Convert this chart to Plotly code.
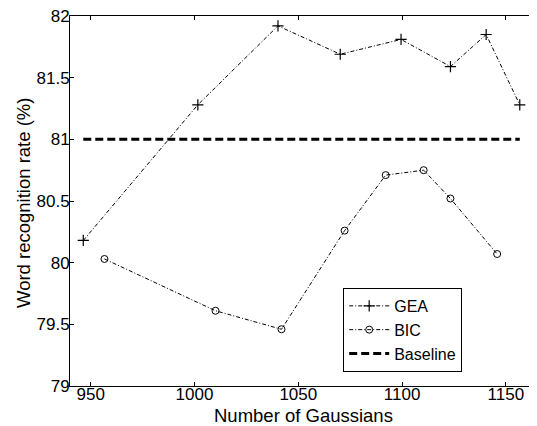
import plotly.graph_objects as go

gea_x = [946.4, 1001.6, 1040.2, 1070.2, 1099.5, 1123.3, 1140.5, 1156.7]
gea_y = [80.18, 81.28, 81.92, 81.69, 81.81, 81.59, 81.85, 81.28]
bic_x = [956.6, 1010.1, 1041.9, 1072.3, 1092.1, 1110.4, 1123.3, 1145.8]
bic_y = [80.03, 79.61, 79.46, 80.26, 80.71, 80.75, 80.52, 80.07]
base_x = [946.4, 1156.7]
base_y = [81.0, 81.0]

x_ticks = [950, 1000, 1050, 1100, 1150]
y_ticks = [79, 79.5, 80, 80.5, 81, 81.5, 82]
y_labels = ["79", "79.5", "80", "80.5", "81", "81.5", "82"]

FONT = "Liberation Sans, Arial, Helvetica, sans-serif"
DASHDOT = "4px,2px,1px,2px"

fig = go.Figure()
fig.add_trace(go.Scatter(
    x=gea_x, y=gea_y, name="GEA", mode="lines+markers",
    line=dict(color="black", width=1, dash=DASHDOT),
    marker=dict(symbol="cross-thin-open", size=8, color="black",
                line=dict(color="black", width=1.2)),
))
fig.add_trace(go.Scatter(
    x=bic_x, y=bic_y, name="BIC", mode="lines+markers",
    line=dict(color="black", width=1, dash=DASHDOT),
    marker=dict(symbol="circle-open", size=7, color="black",
                line=dict(color="black", width=1)),
))
fig.add_trace(go.Scatter(
    x=base_x, y=base_y, name="Baseline", mode="lines",
    line=dict(color="black", width=3, dash="8px,4px"),
))
fig.add_trace(go.Scatter(x=[None], y=[None], yaxis="y2", showlegend=False, hoverinfo="skip"))

# page body has an 8px margin; compensate so the plot area lands where the reference has it
fig.update_layout(
    width=529, height=418,
    margin=dict(l=62, r=0, t=8, b=40),
    paper_bgcolor="white", plot_bgcolor="white",
    font=dict(family=FONT, size=17, color="black"),
    showlegend=True,
    legend=dict(
        x=0.585, y=0.265, xanchor="left", yanchor="top",
        bgcolor="white", bordercolor="black", borderwidth=1,
        font=dict(family=FONT, size=16, color="black"),
        tracegroupgap=0, itemwidth=40, entrywidth=105,
    ),
    xaxis=dict(
        range=[940, 1165], tickvals=x_ticks,
        ticks="inside", ticklen=4, tickcolor="black",
        showline=True, linecolor="black", linewidth=1, mirror="ticks",
        showgrid=False, zeroline=False, automargin=False,
        tickfont=dict(size=17), ticklabelstandoff=-7, ticklabeloverflow="allow",
    ),
    yaxis=dict(
        range=[79, 82], tickvals=y_ticks, ticktext=y_labels,
        ticks="inside", ticklen=4, tickcolor="black",
        showline=True, linecolor="black", linewidth=1,
        showgrid=False, zeroline=False, automargin=False,
        tickfont=dict(size=17), ticklabelstandoff=-4, ticklabeloverflow="allow",
    ),
    yaxis2=dict(
        overlaying="y", side="right", matches="y", range=[79, 82],
        tickvals=y_ticks, ticks="inside", ticklen=4, tickcolor="black",
        showticklabels=False, showline=False, showgrid=False, zeroline=False,
        automargin=False,
    ),
    annotations=[
        dict(text="Number of Gaussians", xref="paper", yref="paper",
             x=0.5, y=0, xanchor="center", yanchor="middle", yshift=-29,
             showarrow=False, font=dict(family=FONT, size=18.5, color="black")),
        dict(text="Word recognition rate (%)", xref="paper", yref="paper",
             x=0, y=0.5, xanchor="center", yanchor="middle", xshift=-47, yshift=-2,
             textangle=-90, showarrow=False,
             font=dict(family=FONT, size=18.5, color="black")),
    ],
)

fig.write_html("out.html")
